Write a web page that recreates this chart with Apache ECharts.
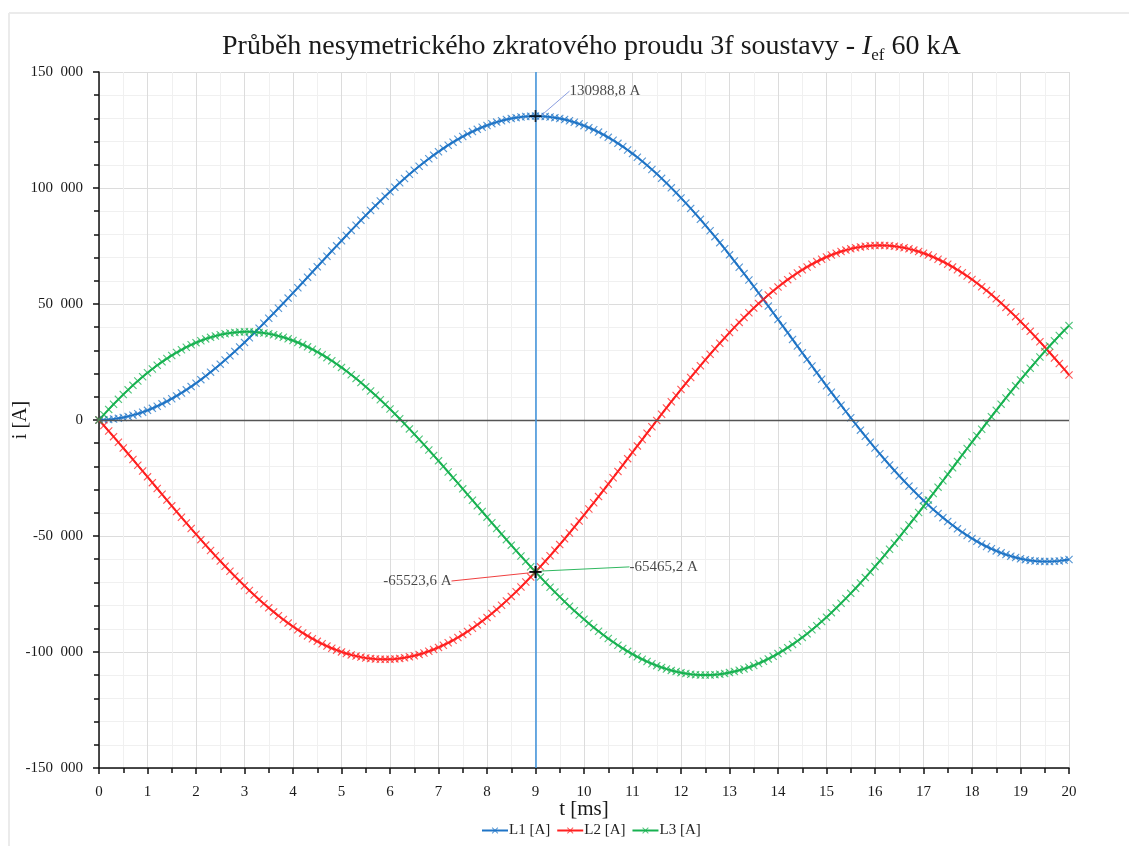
<!DOCTYPE html>
<html>
<head>
<meta charset="utf-8">
<title>Průběh nesymetrického zkratového proudu</title>
<script src="https://cdn.jsdelivr.net/npm/echarts@6/dist/echarts.min.js"></script>
<style>
  html, body { margin: 0; padding: 0; background: #fff; }
  #chart { width: 1129px; height: 846px; }
</style>
</head>
<body>
<div id="chart"></div>
<script>
// čas [ms], krok 0,1 ms
const timeMs = [
  0, 0.1, 0.2, 0.3, 0.4, 0.5, 0.6, 0.7, 0.8, 0.9, 1, 1.1, 1.2, 1.3, 1.4, 1.5, 1.6, 1.7, 1.8, 1.9,
  2, 2.1, 2.2, 2.3, 2.4, 2.5, 2.6, 2.7, 2.8, 2.9, 3, 3.1, 3.2, 3.3, 3.4, 3.5, 3.6, 3.7, 3.8, 3.9,
  4, 4.1, 4.2, 4.3, 4.4, 4.5, 4.6, 4.7, 4.8, 4.9, 5, 5.1, 5.2, 5.3, 5.4, 5.5, 5.6, 5.7, 5.8, 5.9,
  6, 6.1, 6.2, 6.3, 6.4, 6.5, 6.6, 6.7, 6.8, 6.9, 7, 7.1, 7.2, 7.3, 7.4, 7.5, 7.6, 7.7, 7.8, 7.9,
  8, 8.1, 8.2, 8.3, 8.4, 8.5, 8.6, 8.7, 8.8, 8.9, 9, 9.1, 9.2, 9.3, 9.4, 9.5, 9.6, 9.7, 9.8, 9.9,
  10, 10.1, 10.2, 10.3, 10.4, 10.5, 10.6, 10.7, 10.8, 10.9, 11, 11.1, 11.2, 11.3, 11.4, 11.5, 11.6, 11.7, 11.8, 11.9,
  12, 12.1, 12.2, 12.3, 12.4, 12.5, 12.6, 12.7, 12.8, 12.9, 13, 13.1, 13.2, 13.3, 13.4, 13.5, 13.6, 13.7, 13.8, 13.9,
  14, 14.1, 14.2, 14.3, 14.4, 14.5, 14.6, 14.7, 14.8, 14.9, 15, 15.1, 15.2, 15.3, 15.4, 15.5, 15.6, 15.7, 15.8, 15.9,
  16, 16.1, 16.2, 16.3, 16.4, 16.5, 16.6, 16.7, 16.8, 16.9, 17, 17.1, 17.2, 17.3, 17.4, 17.5, 17.6, 17.7, 17.8, 17.9,
  18, 18.1, 18.2, 18.3, 18.4, 18.5, 18.6, 18.7, 18.8, 18.9, 19, 19.1, 19.2, 19.3, 19.4, 19.5, 19.6, 19.7, 19.8, 19.9,
  20
];

// fáze L1 [A]
const l1Values = [
  0, 61, 198, 416, 718, 1098, 1555, 2090, 2699, 3388, 4149,
  5015, 5951, 6958, 8036, 9179, 10389, 11660, 12994, 14390, 15845,
  17384, 18978, 20623, 22322, 24069, 25861, 27695, 29573, 31491, 33444,
  35462, 37510, 39590, 41696, 43828, 45981, 48155, 50344, 52551, 54768,
  57021, 59280, 61544, 63810, 66074, 68335, 70589, 72835, 75069, 77288,
  79516, 81725, 83912, 86073, 88208, 90313, 92388, 94428, 96431, 98395,
  100340, 102243, 104101, 105909, 107667, 109373, 111026, 112624, 114161, 115638,
  117076, 118451, 119761, 121002, 122177, 123281, 124315, 125276, 126161, 126971,
  127727, 128406, 129007, 129528, 129968, 130328, 130608, 130807, 130919, 130988.8,
  130919, 130805, 130606, 130321, 129954, 129502, 128970, 128354, 127651, 126868,
  126021, 125095, 124087, 122996, 121827, 120580, 119256, 117857, 116379, 114829,
  113223, 111547, 109799, 107981, 106098, 104149, 102138, 100063, 97927, 95732,
  93499, 91211, 88871, 86478, 84038, 81552, 79024, 76451, 73839, 71192,
  68524, 65824, 63094, 60336, 57554, 54750, 51925, 49085, 46227, 43359,
  40496, 37626, 34752, 31875, 29001, 26129, 23265, 20408, 17564, 14734,
  11934, 9152, 6393, 3660, 953, -1726, -4373, -6985, -9561, -12097,
  -14579, -17019, -19413, -21758, -24053, -26297, -28487, -30621, -32695, -34709,
  -36650, -38529, -40342, -42087, -43764, -45372, -46909, -48374, -49762, -51076,
  -52304, -53456, -54528, -55521, -56433, -57266, -58018, -58688, -59273, -59776,
  -60188, -60516, -60760, -60917, -60993, -60985, -60895, -60722, -60461, -60121
];

// fáze L2 [A]
const l2Values = [
  0, -2364, -4762, -7181, -9621, -12076, -14544, -17025, -19513, -22008, -24506,
  -27014, -29521, -32023, -34519, -37003, -39477, -41936, -44375, -46795, -49193,
  -51574, -53929, -56251, -58543, -60798, -63017, -65195, -67333, -69425, -71469,
  -73476, -75432, -77336, -79181, -80973, -82705, -84379, -85988, -87533, -89011,
  -90432, -91784, -93067, -94276, -95411, -96473, -97461, -98373, -99205, -99957,
  -100640, -101245, -101767, -102204, -102561, -102837, -103030, -103140, -103164, -103106,
  -102970, -102752, -102454, -102067, -101597, -101044, -100412, -99700, -98902, -98023,
  -97072, -96044, -94937, -93752, -92492, -91156, -89749, -88268, -86714, -85091,
  -83407, -81658, -79843, -77965, -76024, -74024, -71968, -69857, -67688, -65523.6,
  -63206, -60899, -58543, -56144, -53704, -51225, -48711, -46164, -43583, -40975,
  -38345, -35692, -33019, -30324, -27614, -24890, -22154, -19412, -16662, -13909,
  -11162, -8416, -5674, -2940, -217, 2495, 5192, 7872, 10530, 13167,
  15772, 18351, 20898, 23414, 25893, 28336, 30738, 33101, 35417, 37685,
  39901, 42068, 44182, 46238, 48239, 50181, 52065, 53884, 55640, 57328,
  58946, 60495, 61975, 63381, 64714, 65974, 67158, 68268, 69296, 70246,
  71113, 71904, 72610, 73231, 73773, 74235, 74612, 74906, 75116, 75242,
  75280, 75235, 75109, 74896, 74600, 74221, 73763, 73223, 72598, 71893,
  71105, 70239, 69295, 68272, 67174, 66001, 64756, 63438, 62046, 60586,
  59055, 57459, 55795, 54069, 52281, 50435, 48531, 46571, 44555, 42488,
  40370, 38204, 35992, 33734, 31438, 29103, 26731, 24327, 21888, 19423
];

// fáze L3 [A]
const l3Values = [
  0, 2303, 4564, 6765, 8903, 10978, 12989, 14935, 16814, 18620, 20357,
  21999, 23570, 25065, 26483, 27824, 29088, 30276, 31381, 32405, 33348,
  34190, 34951, 35628, 36221, 36729, 37156, 37500, 37760, 37934, 38025,
  38014, 37922, 37746, 37485, 37145, 36724, 36224, 35644, 34982, 34243,
  33411, 32504, 31523, 30466, 29337, 28138, 26872, 25538, 24136, 22669,
  21124, 19520, 17855, 16131, 14353, 12524, 10642, 8712, 6733, 4711,
  2630, 509, -1647, -3842, -6070, -8329, -10614, -12924, -15259, -17615,
  -20004, -22407, -24824, -27250, -29685, -32125, -34566, -37008, -39447, -41880,
  -44320, -46748, -49164, -51563, -53944, -56304, -58640, -60950, -63231, -65465.2,
  -67713, -69906, -72063, -74177, -76250, -78277, -80259, -82190, -84068, -85893,
  -87676, -89403, -91068, -92672, -94213, -95690, -97102, -98445, -99717, -100920,
  -102061, -103131, -104125, -105041, -105881, -106644, -107330, -107935, -108457, -108899,
  -109271, -109562, -109769, -109892, -109931, -109888, -109762, -109552, -109256, -108877,
  -108425, -107892, -107276, -106574, -105793, -104931, -103990, -102969, -101867, -100687,
  -99442, -98121, -96727, -95256, -93715, -92103, -90423, -88676, -86860, -84980,
  -83047, -81056, -79003, -76891, -74726, -72509, -70239, -67921, -65555, -63145,
  -60701, -58216, -55696, -53138, -50547, -47924, -45276, -42602, -39903, -37184,
  -34455, -31710, -28953, -26185, -23410, -20629, -17847, -15064, -12284, -9510,
  -6751, -4003, -1267, 1452, 4152, 6831, 9487, 12117, 14718, 17288,
  19818, 22312, 24768, 27183, 29555, 31882, 34164, 36395, 38573, 40698
];

const seriesNames = ['L1 [A]', 'L2 [A]', 'L3 [A]'];
const seriesColors = ['#1f74c6', '#ff1f1f', '#17b150'];

// kurzor (svislá čára) v čase 9 ms
const cursorTime = 9;

const font = '"Liberation Serif", "DejaVu Serif", serif';
const crossSymbol = 'path://M1,0L5,4L9,0L10,1L6,5L10,9L9,10L5,6L1,10L0,9L4,5L0,1Z';
const plusSymbol = 'path://M4.3,0H5.7V4.3H10V5.7H5.7V10H4.3V5.7H0V4.3H4.3Z';

const fmtThousands = (v) => {
  if (v === 0) return '0';
  const s = Math.abs(v).toString().replace(/\B(?=(\d{3})+(?!\d))/g, '\u2002');
  return (v < 0 ? '-' : '') + s;
};

const fmtAmp = (v) => v.toFixed(1).replace('.', ',') + ' A';

const makeCurve = (name, values, color) => ({
  name,
  type: 'line',
  data: timeMs.map((t, i) => [t, values[i]]),
  symbol: crossSymbol,
  symbolSize: 8,
  showAllSymbol: true,
  lineStyle: { width: 2, color },
  itemStyle: { color, opacity: 0.75 },
  emphasis: { disabled: true },
  z: 3,
});

const cursorIdx = timeMs.indexOf(cursorTime);

// popisky hodnot v místě kurzoru
const annotations = [
  { value: l1Values[cursorIdx], color: '#8a9ee0', position: 'right', dx: 23, dy: -25 },
  { value: l2Values[cursorIdx], color: '#f04040', position: 'left', dx: -73, dy: 9 },
  { value: l3Values[cursorIdx], color: '#30b860', position: 'right', dx: 83, dy: -5 },
];

const chart = echarts.init(document.getElementById('chart'));

chart.setOption({
  animation: false,
  backgroundColor: '#fff',
  textStyle: { fontFamily: font },
  graphic: [
    { type: 'line', silent: true, shape: { x1: 9, y1: 13, x2: 1129, y2: 13 }, style: { stroke: '#ebebeb', lineWidth: 2 } },
    { type: 'line', silent: true, shape: { x1: 9, y1: 13, x2: 9, y2: 846 }, style: { stroke: '#ebebeb', lineWidth: 2 } },
  ],
  title: {
    text: '{a|Průběh nesymetrického zkratového proudu 3f soustavy - }{b|I}{c|ef}{a| 60 kA}',
    left: 217,
    top: 25,
    textStyle: {
      fontWeight: 'normal',
      rich: {
        a: { fontFamily: font, fontSize: 28, fontWeight: 'normal', color: '#1a1a1a', lineHeight: 34, verticalAlign: 'middle' },
        b: { fontFamily: font, fontSize: 28, fontWeight: 'normal', color: '#1a1a1a', fontStyle: 'italic', lineHeight: 34, verticalAlign: 'middle' },
        c: { fontFamily: font, fontSize: 17, fontWeight: 'normal', color: '#1a1a1a', lineHeight: 17, verticalAlign: 'bottom' },
      },
    },
  },
  legend: {
    data: seriesNames,
    bottom: 3,
    left: 476,
    itemWidth: 26,
    itemHeight: 8,
    itemGap: 6,
    textStyle: { fontFamily: font, fontSize: 15, color: '#222', padding: [0, 0, 0, -4] },
  },
  grid: { left: 99, right: 60, top: 72, bottom: 78, outerBoundsMode: 'none', containLabel: false },
  xAxis: {
    type: 'value',
    min: 0,
    max: 20,
    interval: 1,
    name: 't [ms]',
    nameLocation: 'middle',
    nameGap: 31,
    nameMoveOverlap: false,
    nameTextStyle: { fontFamily: font, fontSize: 21, color: '#1a1a1a' },
    axisLine: { onZero: false, lineStyle: { color: '#111', width: 1.5 } },
    axisTick: { length: 6, lineStyle: { color: '#111', width: 1.5 } },
    minorTick: { show: true, splitNumber: 2, length: 5, lineStyle: { color: '#111', width: 1.5 } },
    axisLabel: { fontFamily: font, fontSize: 15, color: '#1a1a1a', margin: 17 },
    splitLine: { show: true, lineStyle: { color: '#dcdcdc', width: 1 } },
    minorSplitLine: { show: true, lineStyle: { color: '#f0f0f0', width: 1 } },
  },
  yAxis: {
    type: 'value',
    min: -150000,
    max: 150000,
    interval: 50000,
    name: 'i [A]',
    nameLocation: 'middle',
    nameGap: 68,
    nameMoveOverlap: false,
    nameTextStyle: { fontFamily: font, fontSize: 20, color: '#1a1a1a' },
    axisLine: { show: true, onZero: false, lineStyle: { color: '#111', width: 1.5 } },
    axisTick: { show: true, length: 6, lineStyle: { color: '#111', width: 1.5 } },
    minorTick: { show: true, splitNumber: 5, length: 5, lineStyle: { color: '#111', width: 1.5 } },
    axisLabel: { fontFamily: font, fontSize: 15, color: '#1a1a1a', margin: 16, formatter: fmtThousands },
    splitLine: { show: true, lineStyle: { color: '#dcdcdc', width: 1 } },
    minorSplitLine: { show: true, lineStyle: { color: '#f0f0f0', width: 1 } },
  },
  series: [
    {
      name: 'zero',
      type: 'line',
      data: [],
      z: 1,
      markLine: {
        silent: true,
        symbol: 'none',
        label: { show: false },
        lineStyle: { color: '#555', width: 1.3, type: 'solid' },
        data: [{ yAxis: 0 }],
      },
    },
    makeCurve(seriesNames[0], l1Values, seriesColors[0]),
    makeCurve(seriesNames[1], l2Values, seriesColors[1]),
    makeCurve(seriesNames[2], l3Values, seriesColors[2]),
    {
      name: 'cursor',
      type: 'scatter',
      z: 6,
      symbol: plusSymbol,
      symbolSize: 12,
      itemStyle: { color: '#000' },
      emphasis: { disabled: true },
      data: annotations.map((a) => ({
        value: [cursorTime, a.value],
        label: {
          show: true,
          position: a.position,
          formatter: () => fmtAmp(a.value),
          fontFamily: font,
          fontSize: 15,
          color: '#1a1a1a',
        },
        labelLine: { show: true, lineStyle: { color: a.color, width: 1 } },
      })),
      labelLayout: (p) => ({ dx: annotations[p.dataIndex].dx, dy: annotations[p.dataIndex].dy }),
      labelLine: { show: true, smooth: false, length2: 0 },
      markLine: {
        silent: true,
        symbol: 'none',
        label: { show: false },
        lineStyle: { color: '#3d92dc', width: 1.5, type: 'solid' },
        data: [{ xAxis: cursorTime }],
      },
    },
  ],
});
</script>
</body>
</html>
